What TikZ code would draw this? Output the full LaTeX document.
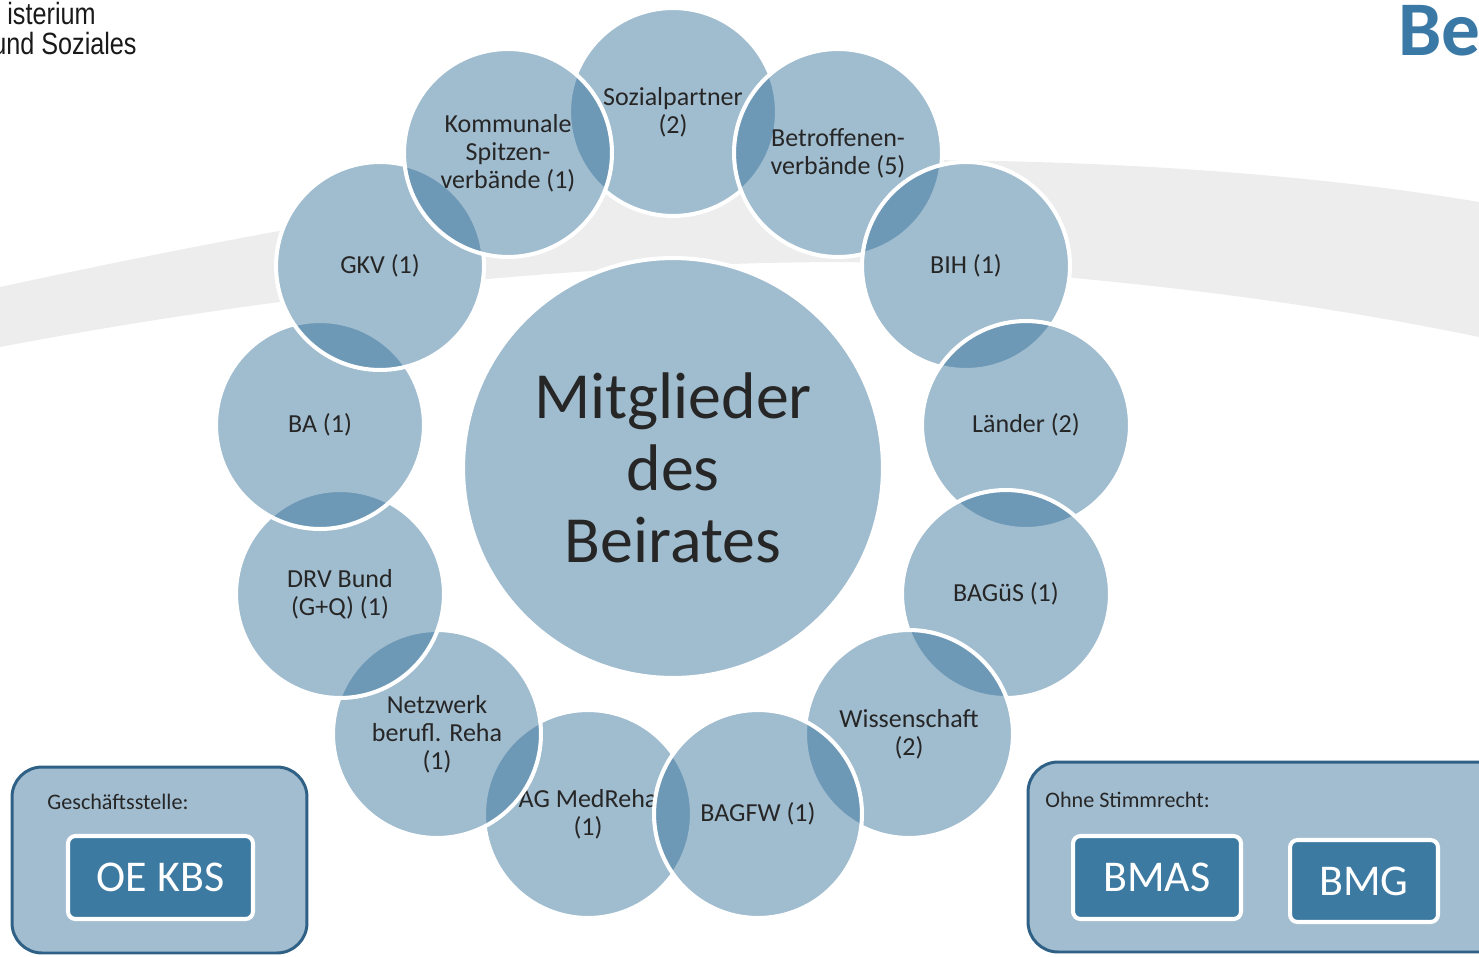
\documentclass[tikz,border=0pt]{standalone}
\usepackage{fontspec}
\setmainfont{Carlito}
\newfontfamily\ministryfont[FakeStretch=0.82]{Liberation Sans}
\usepackage{xcolor}
\definecolor{ringblue}{HTML}{39739B}
\definecolor{tagblue}{HTML}{3D7AA2}
\definecolor{panelfill}{HTML}{A2BDD0}
\definecolor{panelline}{HTML}{2F6186}
\definecolor{titleblue}{HTML}{3A78A6}
\definecolor{bandgray}{HTML}{EDEDED}
\pgfdeclarelayer{band}
\pgfdeclarelayer{discs}
\pgfsetlayers{band,discs,main}
\tikzset{
  member/.style={circle, minimum size=4.16cm, inner sep=0pt, fill=ringblue, fill opacity=0.48, text opacity=1,
    draw=white, line width=2.3pt, align=center, text=black!85, font=\fontsize{14.8}{16}\selectfont},
  hub/.style={member, minimum size=8.4cm, font=\fontsize{37.5}{41}\selectfont},
  panel/.style={rectangle, rounded corners=0.6cm, draw=panelline, line width=1.7pt, fill=panelfill},
  paneltext/.style={anchor=west, inner sep=0pt, text=black!85, font=\fontsize{12.6}{14}\selectfont},
  tag/.style={rectangle, rounded corners=0.15cm, draw=white, line width=2.3pt, fill=tagblue, text=white,
    minimum height=1.66cm, font=\fontsize{25}{30}\selectfont},
  ministry/.style={anchor=base east, inner sep=0pt, text=black!90, font=\ministryfont\fontsize{17.5}{20}\selectfont}
}
\begin{document}
\begin{tikzpicture}[x=0.02cm,y=-0.02cm]
    \useasboundingbox (0,0) rectangle (1479,956);
    \begin{pgfonlayer}{band}
    \fill[bandgray] (0,287) .. controls (300,222) and (650,160) .. (900,160) .. controls (1150,160) and (1350,180) .. (1479,202)
        -- (1479,337) .. controls (1300,300) and (1100,275) .. (850,262) .. controls (600,262) and (300,290) .. (0,347) -- cycle;
    \end{pgfonlayer}

    \node[ministry] (min1) at (96,25) {isterium};
    \node[ministry] (min2) at (137,55) {und Soziales};
    \node[anchor=base west, inner sep=0pt, text=titleblue, font=\fontsize{44}{48}\selectfont\bfseries] (title) at (1398,56) {Be};

    \node[member] (soz) at (673,112) {Sozialpartner\\(2)};
    \node[member] (medreha) at (588,814) {AG MedReha\\(1)};
    \node[member] (betr) at (838,153) {Betroffenen-\\verbände (5)};
    \node[member] (bih) at (966,266) {BIH (1)};
    \node[member] (laender) at (1026,425) {Länder (2)};
    \node[member] (bagues) at (1006,594) {BAGüS (1)};
    \node[member] (wiss) at (909,734) {Wissenschaft\\(2)};
    \node[member] (bagfw) at (758,814) {BAGFW (1)};
    \node[member] (netz) at (437,734) {Netzwerk\\berufl. Reha\\(1)};
    \node[member] (drv) at (340,594) {DRV Bund\\(G+Q) (1)};
    \node[member] (ba) at (320,425) {BA (1)};
    \node[member] (gkv) at (380,266) {GKV (1)};
    \node[member] (komm) at (508,153) {Kommunale\\Spitzen-\\verbände (1)};

    \node[hub] (hub) at (673,468) {Mitglieder\\des\\Beirates};

    \begin{pgfonlayer}{discs}
    \foreach \n in {soz,medreha,betr,bih,laender,bagues,wiss,bagfw,netz,drv,ba,gkv,komm}
        \fill[white] (\n) circle (104);
    \fill[white] (hub) circle (210);
    \end{pgfonlayer}

    \node[panel, minimum width=5.9cm, minimum height=3.72cm] (office) at (159.5,860) {};
    \node[paneltext] (officelbl) at (47,802) {Geschäftsstelle:};
    \node[tag, minimum width=3.7cm] (oekbs) at (160.5,877.5) {OE KBS};

    \node[panel, minimum width=9.84cm, minimum height=3.8cm] (novote) at (1274,857) {};
    \node[paneltext] (novotelbl) at (1045,800) {Ohne Stimmrecht:};
    \node[tag, minimum width=3.36cm] (bmas) at (1157,877.5) {BMAS};
    \node[tag, minimum width=2.96cm, minimum height=1.64cm] (bmg) at (1364,881) {BMG};
\end{tikzpicture}
\end{document}
